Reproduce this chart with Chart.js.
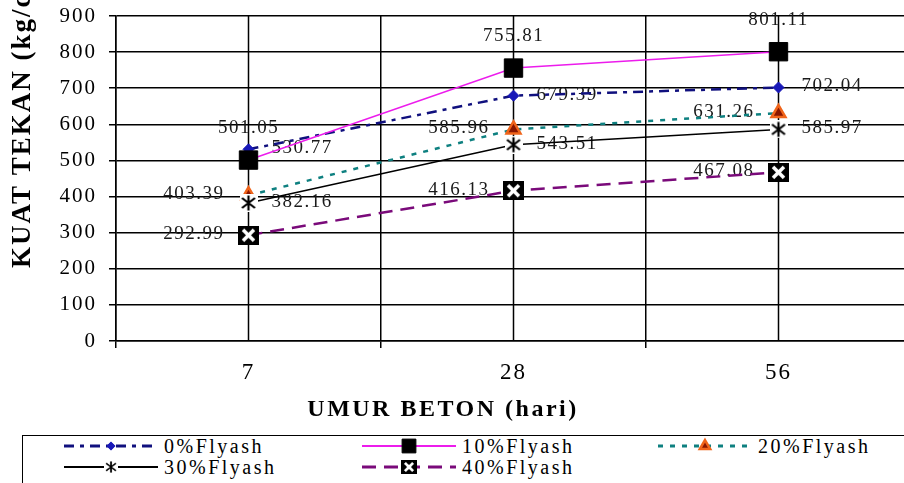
<!DOCTYPE html>
<html>
<head>
<meta charset="utf-8">
<script src="https://cdn.jsdelivr.net/npm/chart.js"></script>
<style>
  html, body { margin: 0; padding: 0; background: #fff; overflow: hidden; }
  #wrap { position: relative; width: 904px; height: 483px; overflow: hidden; }
  #chartBox { position: absolute; left: 0; top: 0; }
  #legendBox { position: absolute; left: 22px; top: 435px; width: 920px; height: 80px; border: 1.5px solid #000; box-sizing: border-box; }
  .lg-item { position: absolute; height: 20px; display: flex; align-items: center; font-family: "Liberation Serif", serif; font-size: 20px; letter-spacing: 2.5px; color: #000; white-space: nowrap; }
  .lg-item canvas { margin-right: 5px; }
</style>
</head>
<body>
<div id="wrap">
  <div id="chartBox"><canvas id="strengthChart" width="930" height="430"></canvas></div>
  <div id="legendBox"></div>
  <div id="legendItems"></div>
</div>
<script>
// umur beton (hari)
const ages = ['7', '28', '56'];
// kuat tekan (kg/cm2) per kadar fly ash
const fly0 = [530.77, 679.39, 702.04];
const fly10 = [501.05, 755.81, 801.11];
const fly20 = [403.39, 585.96, 631.26];
const fly30 = [382.16, 543.51, 585.97];
const fly40 = [292.99, 416.13, 467.08];
const seriesNames = ['0%Flyash', '10%Flyash', '20%Flyash', '30%Flyash', '40%Flyash'];
const yTitle = 'KUAT TEKAN (kg/cm²)';
const xTitle = 'UMUR BETON (hari)';

// marker gambar sendiri (asterisk & kotak silang)
function makeMarker(w, h, draw) {
    const c = document.createElement('canvas');
    c.width = w; c.height = h;
    draw(c.getContext('2d'), w, h);
    return c;
}
const asterisk = makeMarker(18, 18, (g, w, h) => {
    g.fillStyle = '#fff'; g.fillRect(0, 0, w, h);
    g.strokeStyle = '#000'; g.lineWidth = 2.2;
    g.beginPath();
    g.moveTo(w / 2, 1.5); g.lineTo(w / 2, h - 1.5);
    g.moveTo(2.5, 4); g.lineTo(w - 2.5, h - 4);
    g.moveTo(w - 2.5, 4); g.lineTo(2.5, h - 4);
    g.stroke();
});
const crossBox = makeMarker(21, 19, (g, w, h) => {
    g.fillStyle = '#000'; g.fillRect(0, 0, w, h);
    g.strokeStyle = '#fff'; g.lineWidth = 3.6;
    g.beginPath();
    g.moveTo(5, 4); g.lineTo(w - 5, h - 4);
    g.moveTo(w - 5, 4); g.lineTo(5, h - 4);
    g.stroke();
});

// garis grid vertikal di tengah kategori
const gridCenters = {
    id: 'gridCenters',
    beforeDatasetsDraw(chart) {
        const { ctx, chartArea, scales: { x } } = chart;
        ctx.save();
        ctx.strokeStyle = '#000';
        ctx.lineWidth = 1.5;
        ages.forEach((a, i) => {
            const px = x.getPixelForValue(i);
            ctx.beginPath();
            ctx.moveTo(px, chartArea.top);
            ctx.lineTo(px, chartArea.bottom);
            ctx.stroke();
        });
        ctx.restore();
    }
};

// label nilai
const valueLabels = {
    id: 'valueLabels',
    beforeDatasetsDraw(chart) {
        const ctx = chart.ctx;
        ctx.save();
        ctx.font = '19px "Liberation Serif"';
        ctx.letterSpacing = '1.5px';
        ctx.fillStyle = '#1a1a1a';
        ctx.textBaseline = 'middle';
        chart.data.datasets.forEach((ds, i) => {
            chart.getDatasetMeta(i).data.forEach((pt, j) => {
                const txt = ds.data[j].toFixed(2);
                let x = pt.x, y = pt.y;
                if (ds.labelSide === 'right') { ctx.textAlign = 'left'; x += 23; y -= 1; }
                else if (ds.labelSide === 'left') { ctx.textAlign = 'right'; x -= 24; y -= 1; }
                else { ctx.textAlign = 'center'; y -= 32; }
                ctx.fillText(txt, x, y);
            });
        });
        ctx.restore();
    }
};

// judul sumbu
const axisTitles = {
    id: 'axisTitles',
    beforeDraw(chart) {
        chart.ctx.letterSpacing = '2px';
    },
    afterDraw(chart) {
        const { ctx, chartArea } = chart;
        ctx.save();
        ctx.fillStyle = '#000';
        ctx.font = 'bold 27px "Liberation Serif"';
        ctx.letterSpacing = '2px';
        ctx.textBaseline = 'middle';
        ctx.textAlign = 'left';
        ctx.translate(23, chartArea.bottom - 73);
        ctx.rotate(-Math.PI / 2);
        ctx.fillText(yTitle, 0, 0);
        ctx.restore();

        ctx.save();
        ctx.fillStyle = '#000';
        ctx.font = 'bold 24px "Liberation Serif"';
        ctx.letterSpacing = '2.5px';
        ctx.textBaseline = 'middle';
        ctx.textAlign = 'center';
        ctx.fillText(xTitle, 443, chartArea.bottom + 69);
        ctx.restore();
    }
};

const chart = new Chart(document.getElementById('strengthChart'), {
    type: 'line',
    data: {
        labels: ages,
        datasets: [
            {
                label: seriesNames[0], data: fly0, order: 5, labelSide: 'right',
                borderColor: '#10107e', borderWidth: 2.5, borderDash: [10, 6, 4, 6],
                pointStyle: 'rectRot', pointRadius: 5.5, pointBackgroundColor: '#1818b8', pointBorderColor: '#1818b8', pointBorderWidth: 1
            },
            {
                label: seriesNames[1], data: fly10, order: 4, labelSide: 'above',
                borderColor: '#ec1cec', borderWidth: 1.5,
                pointStyle: 'rect', pointRadius: 13, pointBackgroundColor: '#000', pointBorderColor: '#000', pointBorderWidth: 1
            },
            {
                label: seriesNames[2], data: fly20, order: 3, labelSide: 'left',
                borderColor: '#0e8080', borderWidth: 2.5, borderDash: [5, 7],
                pointStyle: 'triangle', pointRadius: 8, pointBackgroundColor: '#8a1600', pointBorderColor: '#f0641a', pointBorderWidth: 2.5
            },
            {
                label: seriesNames[3], data: fly30, order: 2, labelSide: 'right',
                borderColor: '#000', borderWidth: 1.5,
                pointStyle: asterisk, pointRadius: 9
            },
            {
                label: seriesNames[4], data: fly40, order: 1, labelSide: 'left',
                borderColor: '#7a0a7a', borderWidth: 2.5, borderDash: [14, 8],
                pointStyle: crossBox, pointRadius: 10
            }
        ]
    },
    options: {
        responsive: false,
        animation: false,
        layout: { padding: { top: 16, right: 19, left: 0, bottom: 0 } },
        plugins: {
            legend: { display: false },
            tooltip: { enabled: false }
        },
        scales: {
            x: {
                offset: true,
                grid: { offset: true, color: '#000', lineWidth: 1.5, tickLength: 7, tickColor: '#000' },
                border: { color: '#000', width: 1.5 },
                ticks: { color: '#000', maxRotation: 0, padding: 11, font: { family: 'Liberation Serif', size: 23 } },
                afterFit(s) { s.height = 89; }
            },
            y: {
                min: 0, max: 900,
                grid: { color: '#000', lineWidth: 1.5, tickLength: 7, tickColor: '#000' },
                border: { color: '#000', width: 1.5 },
                ticks: { stepSize: 100, color: '#000', padding: 12, font: { family: 'Liberation Serif', size: 21 } },
                afterFit(s) { s.width = 116; s.paddingTop = 0; s.paddingBottom = 0; }
            }
        }
    },
    plugins: [gridCenters, valueLabels, axisTitles]
});

// legenda HTML
const legendSlots = [[63, 436], [361, 436], [657, 436], [63, 457], [361, 457]];
const legendHolder = document.getElementById('legendItems');
chart.data.datasets.forEach((ds, i) => {
    const item = document.createElement('div');
    item.className = 'lg-item';
    item.style.left = legendSlots[i][0] + 'px';
    item.style.top = legendSlots[i][1] + 'px';

    const c = document.createElement('canvas');
    c.width = 96; c.height = 20;
    const g = c.getContext('2d');
    g.strokeStyle = ds.borderColor;
    g.lineWidth = ds.borderWidth + 0.5;
    g.setLineDash(ds.borderDash || []);
    g.beginPath(); g.moveTo(1, 10); g.lineTo(95, 10); g.stroke();
    g.setLineDash([]);
    if (typeof ds.pointStyle === 'string') {
        g.fillStyle = ds.pointBackgroundColor;
        g.strokeStyle = ds.pointBorderColor;
        g.lineWidth = ds.pointBorderWidth;
        Chart.helpers.drawPoint(g, { pointStyle: ds.pointStyle, radius: ds.pointRadius * 0.75, rotation: 0, borderWidth: ds.pointBorderWidth }, 48, 10);
    } else {
        const img = ds.pointStyle, k = 0.75;
        g.drawImage(img, 48 - img.width * k / 2, 10 - img.height * k / 2, img.width * k, img.height * k);
    }
    item.appendChild(c);

    const t = document.createElement('span');
    t.textContent = ds.label;
    item.appendChild(t);
    legendHolder.appendChild(item);
});
</script>
</body>
</html>
